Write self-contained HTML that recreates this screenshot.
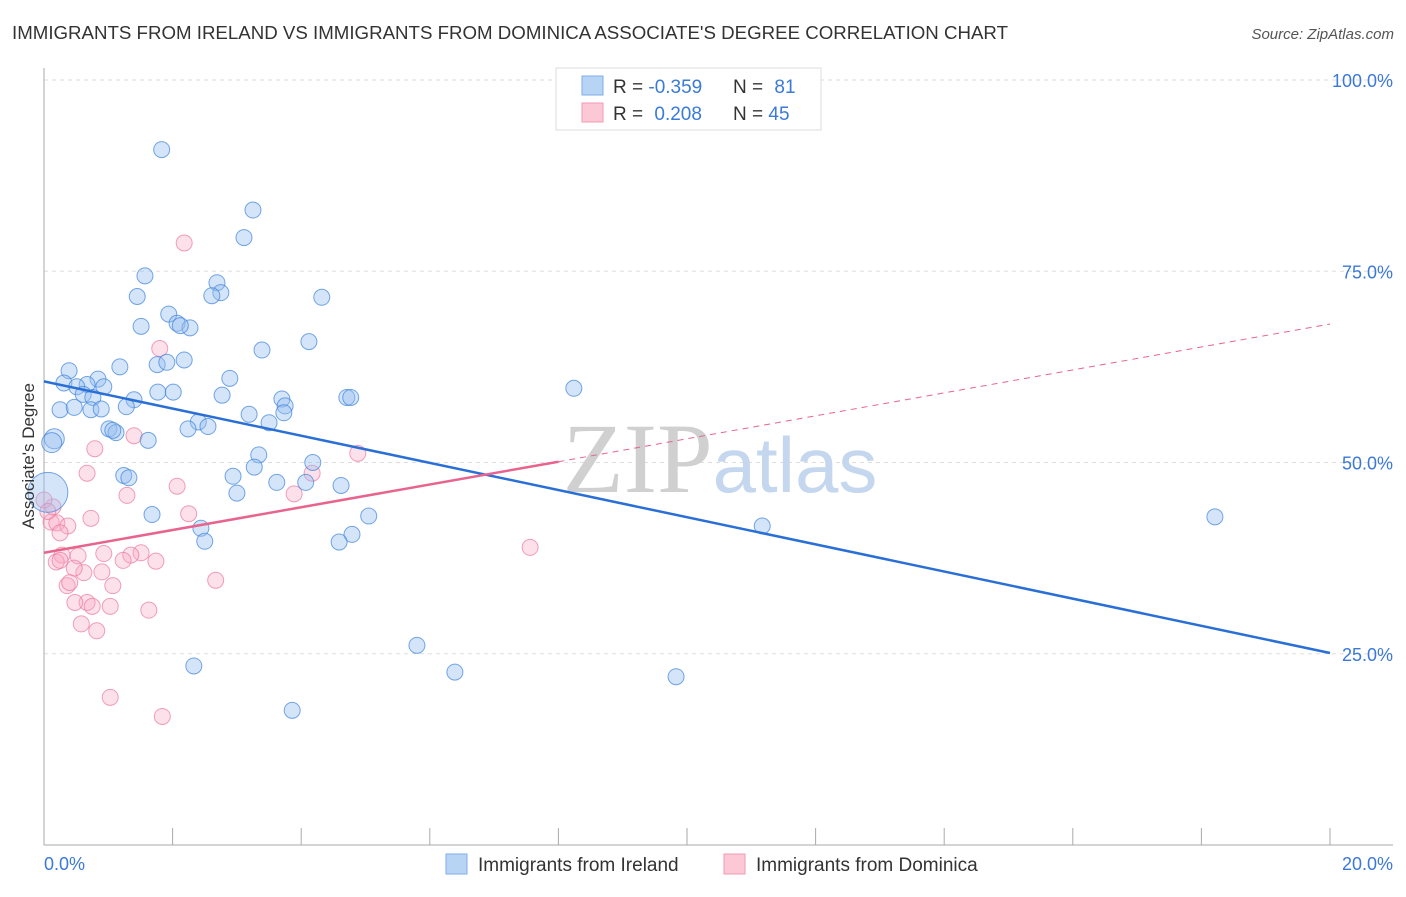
<!DOCTYPE html>
<html><head><meta charset="utf-8">
<style>
body{margin:0;background:#fff;font-family:"Liberation Sans",sans-serif;}
svg text{font-family:"Liberation Sans",sans-serif;}
</style></head>
<body>
<svg id="chart" width="1406" height="892">
<text x="12" y="39" font-size="18" fill="#333" textLength="996" lengthAdjust="spacingAndGlyphs">IMMIGRANTS FROM IRELAND VS IMMIGRANTS FROM DOMINICA ASSOCIATE'S DEGREE CORRELATION CHART</text>
<text x="1394" y="39" font-size="15" fill="#555" font-style="italic" text-anchor="end">Source: ZipAtlas.com</text>
<g id="grid"></g>
<text x="720" y="492" font-size="100" fill="#d8d8d8" text-anchor="middle" font-family="Liberation Serif"><tspan fill="#d0d0d0" font-family="Liberation Serif">ZIP</tspan><tspan fill="#c5d7ee" font-family="Liberation Sans" font-size="78">atlas</tspan></text>
<g id="marks"></g>
<text transform="translate(34,456) rotate(-90)" font-size="17" fill="#333" text-anchor="middle">Associate's Degree</text>
<g>
<rect x="556" y="68" width="265" height="62" fill="#fff" stroke="#ddd"/>
<rect x="582" y="76" width="21" height="19" fill="#b8d4f5" stroke="#7eaee8"/>
<rect x="582" y="103" width="21" height="19" fill="#fcc8d6" stroke="#f09ab4"/>
<text x="613" y="93" font-size="19" fill="#333">R = <tspan fill="#3a7ad8">-0.359</tspan></text>
<text x="733" y="93" font-size="19" fill="#333">N = <tspan fill="#3a7ad8" dx="6">81</tspan></text>
<text x="613" y="120" font-size="19" fill="#333">R = <tspan fill="#3a7ad8" dx="6">0.208</tspan></text>
<text x="733" y="120" font-size="19" fill="#333">N = <tspan fill="#3a7ad8">45</tspan></text>
</g>
<g>
<rect x="446" y="854" width="21" height="20" fill="#b8d4f5" stroke="#7eaee8"/>
<text x="478" y="871" font-size="19" fill="#333">Immigrants from Ireland</text>
<rect x="724" y="854" width="21" height="20" fill="#fcc8d6" stroke="#f09ab4"/>
<text x="756" y="871" font-size="19" fill="#333">Immigrants from Dominica</text>
</g>
</svg>
<script>
const yTicks=[25,50,75,100];
const yTickLabels=["25.0%","50.0%","75.0%","100.0%"];
const xTickLabels=["0.0%","20.0%"];
const blueX=[1.83,3.25,3.11,1.57,2.69,2.75,2.61,1.45,4.32,1.94,1.51,2.07,2.27,2.12,4.12,3.39,2.18,0.39,1.18,1.76,1.91,2.89,0.31,0.84,0.67,0.93,0.51,8.24,1.77,2.01,2.77,0.61,0.76,4.71,4.77,3.70,1.40,0.25,0.47,0.73,0.89,1.28,3.75,3.19,3.73,2.40,3.50,2.55,2.24,1.01,1.12,1.07,0.16,0.12,1.62,3.34,3.27,4.18,2.94,1.24,1.32,3.62,4.07,4.62,3.00,1.68,5.05,11.17,18.21,2.44,2.50,4.79,4.59,5.80,2.33,6.39,9.83,3.86,0.06];
const blueY=[90.9,83.0,79.4,74.4,73.5,72.2,71.8,71.7,71.6,69.4,67.8,68.2,67.6,67.9,65.8,64.7,63.4,62.0,62.5,62.8,63.1,61.0,60.4,60.9,60.2,59.9,59.9,59.7,59.2,59.2,58.8,58.9,58.5,58.5,58.5,58.3,58.2,56.9,57.2,56.9,57.0,57.3,57.4,56.3,56.5,55.3,55.2,54.7,54.4,54.4,53.9,54.2,53.1,52.6,52.9,51.0,49.4,50.0,48.2,48.3,48.0,47.4,47.4,47.0,46.0,43.2,43.0,41.7,42.9,41.4,39.7,40.6,39.6,26.1,23.4,22.6,22.0,17.6,46.1];
const blueR=[8,8,8,8,8,8,8,8,8,8,8,8,8,8,8,8,8,8,8,8,8,8,8,8,8,8,8,8,8,8,8,8,8,8,8,8,8,8,8,8,8,8,8,8,8,8,8,8,8,8,8,8,10,10,8,8,8,8,8,8,8,8,8,8,8,8,8,8,8,8,8,8,8,8,8,8,8,8,20];
const pinkX=[2.18,1.80,1.40,0.79,0.67,4.17,4.88,2.07,1.29,3.89,2.25,0.14,0.11,0.20,0.37,0.73,0.28,0.93,1.51,1.35,0.19,0.25,0.53,0.90,0.62,0.47,1.23,1.74,1.07,0.36,0.40,2.67,7.56,0.67,0.48,0.75,1.03,1.63,0.58,0.82,1.03,1.84,0.0,0.06,0.25];
const pinkY=[78.7,64.9,53.5,51.8,48.6,48.6,51.2,46.9,45.7,45.9,43.3,44.2,42.2,42.1,41.7,42.7,37.9,38.1,38.2,37.9,37.0,37.2,37.8,35.7,35.6,36.2,37.2,37.1,33.9,33.9,34.3,34.6,38.9,31.7,31.7,31.2,31.2,30.7,28.9,28.0,19.3,16.8,45.1,43.6,40.8];
const X0=44,X1=1330,Y0=845,Y100=80;
const sx=v=>X0+(X1-X0)*v/20, sy=v=>Y0-(Y0-Y100)*v/100;
const NS="http://www.w3.org/2000/svg";
const grid=document.getElementById('grid'), marks=document.getElementById('marks'), svg=document.getElementById('chart');
function mk(t,a,p){const e=document.createElementNS(NS,t);for(const k in a)e.setAttribute(k,a[k]);(p||marks).appendChild(e);return e;}
yTicks.forEach((t,i)=>{
 const g=mk('line',{x1:X0,x2:1393,y1:sy(t),y2:sy(t),stroke:'#ddd','stroke-dasharray':'4,4'},grid);
 
 
 const l=mk('text',{x:1393,y:sy(t)+7,'font-size':18,fill:'#3b78d8','text-anchor':'end'},svg);
 l.textContent=yTickLabels[i];
 
 
});
const ax=mk('line',{x1:X0,x2:X0,y1:68,y2:Y0,stroke:'#aaa'},grid);


const bx=mk('line',{x1:X0,x2:1393,y1:Y0,y2:Y0,stroke:'#aaa'},grid);


for(let i=0;i<=10;i++){const t=mk('line',{x1:sx(i*2),x2:sx(i*2),y1:Y0,y2:828,stroke:'#aaa'},grid);
 
 }
[[0,'start',44],[20,'end',1393]].forEach((d,i)=>{const t=mk('text',{x:d[2],y:870,'font-size':18,fill:'#3b78d8','text-anchor':d[1]},svg);t.textContent=xTickLabels[i];
 
 });
pinkX.forEach((x,i)=>{const c=mk('circle',{cx:sx(x),cy:sy(pinkY[i]),r:8,fill:'rgba(248,170,195,0.35)',stroke:'rgba(235,120,160,0.7)','stroke-width':1});
 
 });
blueX.forEach((x,i)=>{const c=mk('circle',{cx:sx(x),cy:sy(blueY[i]),r:blueR[i],fill:'rgba(150,190,240,0.4)',stroke:'rgba(60,130,220,0.7)','stroke-width':1});
 
 });
const bt=mk('line',{x1:sx(0),y1:sy(60.6),x2:sx(20),y2:sy(25.1),stroke:'#2a6fd6','stroke-width':2.5});


const pt=mk('line',{x1:sx(0),y1:sy(38.2),x2:sx(8),y2:sy(50.1),stroke:'#e8648e','stroke-width':2.5});


const pd=mk('line',{x1:sx(8),y1:sy(50.1),x2:sx(20),y2:sy(68.1),stroke:'#e8648e','stroke-width':1,'stroke-dasharray':'6,5'});


</script>
</body></html>
